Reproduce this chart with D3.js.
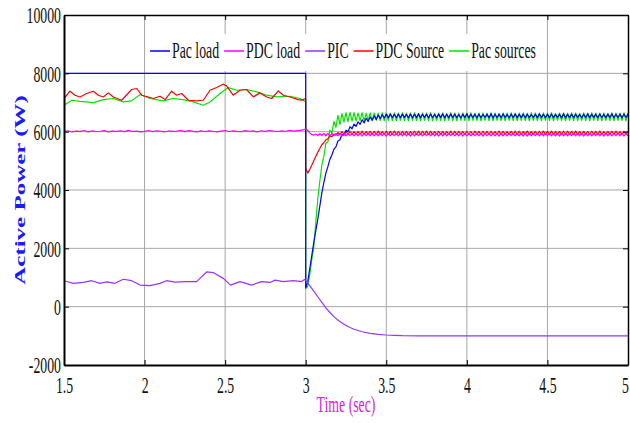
<!DOCTYPE html>
<html><head><meta charset="utf-8">
<script src="https://cdn.jsdelivr.net/npm/d3@7"></script>
<style>body{margin:0;background:#fff}svg{display:block}</style>
</head><body><svg id="c" width="630" height="423"></svg>
<script>
// ---------- data ----------
const xTicks = [1.5, 2, 2.5, 3, 3.5, 4, 4.5, 5];
const xTickLabels = ["1.5", "2", "2.5", "3", "3.5", "4", "4.5", "5"];
const yTicks = [-2000, 0, 2000, 4000, 6000, 8000, 10000];
const yTickLabels = ["-2000", "0", "2000", "4000", "6000", "8000", "10000"];
const seriesNames = ["Pac load", "PDC load", "PIC", "PDC Source", "Pac sources"];
const seriesColors = ["#0000ff", "#ff00ff", "#9933ff", "#ff0000", "#00e600"];
const xLabel = "Time (sec)";
const yLabel = "Active Power (W)";

// before the switching instant: [time, W]
const pacLoadPre = [[1.5, 8000], [3.0, 8000]];
const pdcLoadPreT0 = 1.5, pdcLoadPreDt = 0.025;
const pdcLoadPreVals = [
  6000,6030,5990,6020,6010,6040,5995,6025,6005,6015,
  6035,5990,6020,6010,6030,6000,6045,6005,6020,5995,
  6010,6040,6000,6025,6015,5990,6030,6010,6020,6040,
  6000,6035,6010,5995,6025,6005,6030,6015,5990,6020,
  6040,6005,6025,6010,6000,6035,6015,6025,5995,6030,
  6010,6040,6020,6005,6030,6015,6045,6020,6035,6050];
const picPre = [[1.5,890],[1.558,800],[1.62,830],[1.672,890],[1.723,800],[1.765,850],[1.817,800],[1.868,940],[1.92,890],[1.972,740],[2.034,720],[2.096,800],[2.137,890],[2.189,840],[2.25,860],[2.323,860],[2.385,1190],[2.426,1170],[2.488,970],[2.534,740],[2.592,860],[2.664,740],[2.726,860],[2.779,830],[2.81,910],[2.861,860],[2.923,890],[2.975,860],[2.992,930]];
const pdcSourcePre = [[1.5,7137],[1.537,7387],[1.568,7250],[1.6,7190],[1.64,7308],[1.682,7387],[1.713,7250],[1.744,7190],[1.775,7330],[1.806,7190],[1.858,7078],[1.92,7445],[1.951,7480],[1.982,7250],[2.023,7190],[2.054,7137],[2.096,7215],[2.127,7100],[2.168,7387],[2.199,7250],[2.23,7308],[2.272,7078],[2.323,7055],[2.364,7078],[2.406,7420],[2.447,7512],[2.488,7627],[2.509,7570],[2.55,7250],[2.592,7420],[2.633,7445],[2.675,7190],[2.716,7330],[2.758,7190],[2.789,7137],[2.83,7395],[2.861,7250],[2.903,7190],[2.954,7100],[2.975,7080],[3.0,7137]];
const pacSourcesPre = [[1.5,6907],[1.55,7078],[1.6,7040],[1.64,7020],[1.68,6987],[1.744,7100],[1.806,7137],[1.868,7020],[1.92,7055],[1.972,7273],[2.034,7137],[2.116,7055],[2.178,7137],[2.24,7100],[2.302,7020],[2.364,6907],[2.406,7020],[2.468,7308],[2.52,7512],[2.571,7420],[2.633,7445],[2.695,7365],[2.758,7250],[2.82,7190],[2.903,7215],[2.965,7137],[3.0,7020]];

// after the switching instant, sampled from t = 3.0 every 0.0125 s
const postT0 = 3.0, postDt = 0.0125;
const pacLoadPost = [
  650,850,1300,1750,2200,2600,3000,3450,3900,4250,
  4580,4800,5050,5200,5400,5480,5680,5720,5900,5880,
  6050,6000,6170,6100,6260,6180,6340,6250,6410,6300,
  6460,6350,6500,6390,6540,6420,6570,6450,6580,6470,
  6600,6480,6610,6485,6595,6475,6605,6480,6600,6490,
  6590,6480,6605,6475,6600,6485,6610,6480,6595,6490,
  6600,6475,6605,6485,6590,6480,6600,6490,6610,6475,
  6595,6480,6600,6485,6605,6480,6590,6475,6600,6490,
  6610,6480,6595,6485,6600,6475,6605,6480,6590,6490,
  6600,6480,6610,6475,6595,6485,6600,6480,6605,6490,
  6590,6475,6600,6485,6610,6480,6595,6490,6600,6475,
  6605,6480,6590,6485,6600,6480,6610,6490,6595,6475,
  6600,6485,6605,6480,6590,6490,6600,6475,6610,6480,
  6595,6485,6600,6480,6605,6490,6590,6475,6600,6485,
  6610,6480,6595,6490,6600,6475,6605,6485,6590,6480,
  6600,6490,6610,6475,6595,6485,6600,6480,6605,6490,
  6600];
const pdcLoadPost = [
  6100,6040,5960,5900,5880,5920,5870,5930,5870,5940,
  5860,5940,5855,5945,5865,5935,5860,5940,5850,5945,
  5860,5935,5865,5940,5855,5945,5860,5940,5850,5935,
  5865,5945,5860,5940,5855,5935,5860,5945,5865,5940,
  5850,5940,5860,5935,5865,5945,5855,5940,5860,5945,
  5860,5940,5850,5935,5860,5945,5865,5940,5855,5935,
  5865,5940,5860,5945,5855,5940,5850,5935,5860,5945,
  5860,5945,5865,5940,5855,5935,5860,5940,5850,5945,
  5855,5940,5860,5935,5865,5945,5860,5940,5850,5940,
  5865,5935,5855,5945,5860,5940,5850,5945,5860,5935,
  5860,5940,5865,5945,5855,5935,5860,5940,5850,5945,
  5850,5945,5860,5940,5865,5935,5855,5940,5860,5945,
  5865,5940,5855,5935,5860,5945,5850,5940,5860,5935,
  5860,5935,5865,5940,5855,5945,5860,5940,5850,5945,
  5855,5940,5860,5945,5865,5935,5860,5940,5850,5940,
  5860,5945,5855,5935,5865,5940,5860,5945,5850,5940,
  5860];
const pdcSourcePost = [
  4750,4580,4700,4850,5000,5150,5300,5420,5550,5620,
  5720,5760,5840,5830,5920,5880,5970,5900,6000,5910,
  6010,5910,6015,5905,6005,5915,6010,5910,6020,5905,
  6005,5915,6010,5905,6015,5910,6020,5915,6005,5910,
  6015,5905,6010,5915,6020,5910,6005,5905,6010,5915,
  6010,5910,6005,5915,6015,5905,6020,5910,6010,5915,
  6020,5905,6010,5910,6005,5915,6015,5905,6010,5910,
  6005,5915,6020,5910,6010,5905,6015,5915,6005,5910,
  6015,5910,6005,5905,6020,5915,6010,5910,6015,5905,
  6010,5905,6015,5915,6005,5910,6020,5905,6010,5915,
  6005,5915,6010,5910,6020,5905,6015,5910,6005,5915,
  6020,5910,6005,5915,6010,5905,6015,5910,6020,5915,
  6010,5905,6020,5910,6005,5915,6010,5905,6015,5910,
  6015,5915,6010,5905,6020,5910,6005,5915,6010,5905,
  6005,5910,6015,5915,6010,5905,6020,5910,6005,5915,
  6010,5905,6015,5910,6020,5915,6005,5910,6010,5905,
  6010];
const pacSourcesPost = [
  620,700,1100,1600,2050,2900,3700,4300,4850,5150,
  5600,5650,6050,5950,6350,6150,6560,6250,6620,6330,
  6650,6340,6660,6360,6650,6370,
  6640,6380,6650,6370,6630,6390,6645,6375,6640,6385,
  6635,6380,6650,6370,6640,6390,6630,6380,6645,6375,
  6640,6385,6650,6380,6635,6370,6640,6390,6650,6380,
  6630,6375,6645,6385,6640,6380,6650,6370,6635,6390,
  6640,6380,6645,6375,6630,6385,6650,6380,6640,6370,
  6635,6390,6645,6380,6640,6375,6650,6385,6630,6380,
  6640,6370,6645,6390,6635,6380,6650,6375,6640,6385,
  6630,6380,6645,6370,6640,6390,6650,6380,6635,6375,
  6640,6385,6645,6380,6630,6370,6650,6390,6640,6380,
  6635,6375,6645,6385,6640,6380,6650,6370,6630,6390,
  6640,6380,6645,6375,6635,6385,6650,6380,6640,6370,
  6630,6390,6645,6380,6640,6375,6650,6385,6635,6380,
  6640,6370,6645,6390,6630,6380,6650,6375,6640,6385,
  6635,6380,6645,6370,6640];
const picPost = [[3.0,900],[3.025,720],[3.05,530],[3.075,340],[3.1,150],[3.125,-40],[3.15,-200],[3.175,-340],[3.2,-460],[3.225,-560],[3.25,-645],[3.275,-715],[3.3,-775],[3.35,-860],[3.4,-915],[3.45,-950],[3.5,-972],[3.55,-985],[3.6,-995],[3.7,-1000],[5.0,-1000]];

// ---------- assemble ----------
const post = vals => vals.map((v, i) => [postT0 + i * postDt, v]);
const seriesData = {
  "Pac load": pacLoadPre.concat(post(pacLoadPost)),
  "PDC load": pdcLoadPreVals.map((v, i) => [pdcLoadPreT0 + i * pdcLoadPreDt, v]).concat(post(pdcLoadPost)),
  "PIC": picPre.concat(picPost),
  "PDC Source": pdcSourcePre.concat(post(pdcSourcePost)),
  "Pac sources": pacSourcesPre.concat(post(pacSourcesPost))
};
const drawOrder = ["Pac sources", "PDC Source", "Pac load", "PDC load", "PIC"];

// ---------- layout ----------
const L = 64, R = 628, T = 15, B = 365;
const FONT = "'Liberation Serif','Times New Roman',serif";
const SX = 0.6; // horizontal squeeze of the lettering
const svg = d3.select("#c");
const x = d3.scaleLinear().domain([1.5, 5]).range([L, R]);
const y = d3.scaleLinear().domain([-2000, 10000]).range([B, T]);

// gridlines
const grid = svg.append("g").attr("stroke", "#a6a6a6").attr("stroke-width", 1);
grid.selectAll(".gx").data(xTicks.slice(1, -1)).join("line")
  .attr("x1", d => x(d)).attr("x2", d => x(d)).attr("y1", T).attr("y2", B);
grid.selectAll(".gy").data(yTicks.slice(1, -1)).join("line")
  .attr("y1", d => y(d)).attr("y2", d => y(d)).attr("x1", L).attr("x2", R);

// series
svg.append("clipPath").attr("id", "clip").append("rect")
  .attr("x", L).attr("y", T).attr("width", R - L).attr("height", B - T);
const line = d3.line().x(d => x(d[0])).y(d => y(d[1]));
const plot = svg.append("g").attr("clip-path", "url(#clip)");
drawOrder.forEach(name => {
  plot.append("path").datum(seriesData[name])
    .attr("fill", "none")
    .attr("stroke", seriesColors[seriesNames.indexOf(name)])
    .attr("stroke-width", 1.2)
    .attr("stroke-linejoin", "round")
    .attr("d", line);
});

// legend (white backing, no border)
const leg = svg.append("g");
const legBg = leg.append("rect").attr("fill", "#fff");
let lx = 150;
const legY = 51;
seriesNames.forEach((name, i) => {
  leg.append("line").attr("x1", lx).attr("x2", lx + 20).attr("y1", legY).attr("y2", legY)
    .attr("stroke", seriesColors[i]).attr("stroke-width", 1.5);
  const t = leg.append("text")
    .attr("transform", `translate(${lx + 22},${legY + 7}) scale(${SX},1)`)
    .attr("font-family", FONT).attr("font-size", 23).attr("fill", "#111")
    .text(name);
  lx += 22 + t.node().getComputedTextLength() * SX + 5;
});
legBg.attr("x", 146).attr("y", 34).attr("width", lx - 146).attr("height", 37);

// axes
function styleAxis(g, w) {
  g.attr("font-family", FONT).attr("font-size", 23);
  g.select(".domain").attr("stroke", "#000").attr("stroke-width", w);
  g.selectAll(".tick line").attr("stroke", "#000").attr("stroke-width", 1);
}
const ax = svg.append("g").attr("transform", `translate(0,${B})`)
  .call(d3.axisBottom(x).tickValues(xTicks).tickFormat((d, i) => xTickLabels[i]).tickSizeInner(-5).tickSizeOuter(0));
styleAxis(ax, 2);
ax.selectAll("text").attr("y", 0).attr("dy", 0).attr("fill", "#111")
  .attr("transform", (d, i) => `translate(${i === xTicks.length - 1 ? -3 : 0},28) scale(${SX},1)`);

const ay = svg.append("g").attr("transform", `translate(${L},0)`)
  .call(d3.axisLeft(y).tickValues(yTicks).tickFormat((d, i) => yTickLabels[i]).tickSizeInner(-5).tickSizeOuter(0));
styleAxis(ay, 2);
ay.selectAll("text").attr("x", 0).attr("dy", "0.34em").attr("fill", "#111")
  .attr("transform", `translate(-3,0) scale(${SX},1)`);

const at = svg.append("g").attr("transform", `translate(0,${T})`)
  .call(d3.axisTop(x).tickValues(xTicks).tickFormat("").tickSizeInner(-5).tickSizeOuter(0));
styleAxis(at, 1.5);
const ar = svg.append("g").attr("transform", `translate(${R},0)`)
  .call(d3.axisRight(y).tickValues(yTicks).tickFormat("").tickSizeInner(-5).tickSizeOuter(0));
styleAxis(ar, 1.5);

// axis titles
svg.append("text")
  .attr("transform", `translate(${(L + R) / 2},412) scale(${SX},1)`)
  .attr("text-anchor", "middle").attr("font-family", FONT).attr("font-size", 23)
  .attr("fill", "#e020e0").text(xLabel);
svg.append("text")
  .attr("transform", `translate(25,190) scale(${SX},1) rotate(-90)`)
  .attr("text-anchor", "middle").attr("font-family", FONT).attr("font-size", 25)
  .attr("font-weight", "bold").attr("fill", "#1a1aff").text(yLabel);
</script></body></html>
